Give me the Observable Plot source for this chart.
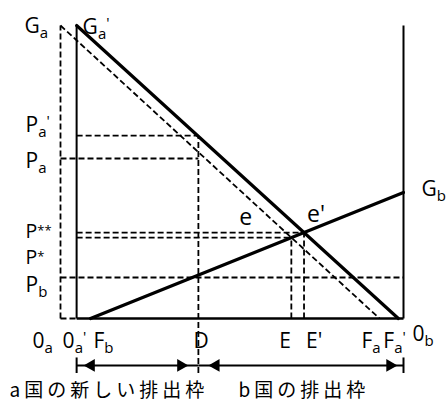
<!DOCTYPE html>
<html><head><meta charset="utf-8">
<script src="https://cdn.jsdelivr.net/npm/d3@7"></script>
<script src="https://cdn.jsdelivr.net/npm/@observablehq/plot@0.6"></script>
<style>
body{margin:0;background:#fff;}
</style>
</head><body><div id="chart"></div>
<script>
// Horizontal points on the emission-allowance box (0 = O_a, 100 = O_b)
const xNames  = ["0_a", "0_a^'", "F_b", "D", "E", "E'", "F_a", "F_a^'", "0_b"];
const xValues = [0, 4.7, 8.75, 40.2, 67.3, 71.0, 93.0, 98.5, 100];
// Price / marginal-benefit levels
const yNames  = ["G_a", "P_a^'", "P_a", "P^**", "P^*", "P_b", "G_b"];
const yValues = [100, 62.4, 54.6, 29.3, 27.6, 14.0, 43.0];
// Bracket captions under the axis
const bracketLabels = ["a国の新しい排出枠", "b国の排出枠"];

const X = Object.fromEntries(xNames.map((n, i) => [n, xValues[i]]));
const Y = Object.fromEntries(yNames.map((n, i) => [n, yValues[i]]));

// layout rows below the axis (in y units)
const arrowRow = -16, tickTop = -13.3, tickBot = -18.6;

const seg = (x1, y1, x2, y2) => ({x1, y1, x2, y2});

const dashedSegs = [
  seg(X["0_a"], 0, X["0_a"], Y.G_a),
  seg(X["0_a"], 0, X["0_a^'"], 0),
  seg(X["0_a"], Y.G_a, X.F_a, 0),                 // original G_a line
  seg(X["0_a^'"], Y["P_a^'"], X.D, Y["P_a^'"]),
  seg(X["0_a"], Y.P_a, X.D, Y.P_a),
  seg(X["0_a^'"], Y["P^**"], X["E'"], Y["P^**"]),
  seg(X["0_a^'"], Y["P^*"], X.E, Y["P^*"]),
  seg(X["0_a"], Y.P_b, X["0_b"], Y.P_b),
  seg(X.D, tickBot, X.D, Y["P_a^'"]),
  seg(X.E, 0, X.E, Y["P^*"]),
  seg(X["E'"], 0, X["E'"], Y["P^**"])
];
const thinSolid = [
  seg(X["0_a^'"], 0, X["0_a^'"], Y.G_a),
  seg(X["0_b"], 0, X["0_b"], Y.G_a),
  seg(X["0_a^'"], tickTop, X["0_a^'"], tickBot),
  seg(X["0_b"], tickTop, X["0_b"], tickBot)
];
const baseSeg = [seg(X["0_a^'"], 0, X["0_b"], 0)];
const thickSolid = [
  seg(X["0_a^'"], Y.G_a, X["F_a^'"], 0),          // shifted G_a'
  seg(X.F_b, 0, X["0_b"], Y.G_b)                  // G_b
];
// bracket arrows: from/to points, tips inset in px
const arrows = [
  {x1: X["0_a^'"], x2: X.D, in1: 7, in2: 10},
  {x1: X.D, x2: X["0_b"], in1: 10, in2: 6}
];

const labels = [
  {t: "G_a",   x: X["0_a"],  y: Y.G_a, dx: -36, dy: 7},
  {t: "G_a^'", x: X["0_a^'"], y: Y.G_a, dx: 6, dy: 8},
  {t: "P_a^'", x: X["0_a"], y: Y["P_a^'"], dx: -35, dy: -4},
  {t: "P_a",   x: X["0_a"], y: Y.P_a, dx: -35, dy: 9},
  {t: "P^**",  x: X["0_a"], y: Y["P^**"], dx: -35, dy: 5, fs: 19.5},
  {t: "P^*",   x: X["0_a"], y: Y["P^*"], dx: -35, dy: 26, fs: 19.5},
  {t: "P_b",   x: X["0_a"], y: Y.P_b, dx: -35, dy: 15},
  {t: "G_b",   x: X["0_b"], y: Y.G_b, dx: 18, dy: 3},
  {t: "e",     x: X.E, y: Y["P^*"], dx: -52, dy: -13, fs: 23},
  {t: "e'",    x: X["E'"], y: Y["P^**"], dx: 3, dy: -11, fs: 23},
  {t: "0_a",   x: X["0_a"], y: 0, dx: -28, dy: 29},
  {t: "0_a^'", x: X["0_a^'"], y: 0, dx: -14, dy: 29},
  {t: "F_b",   x: X.F_b, y: 0, dx: 3, dy: 29},
  {t: "D",     x: X.D, y: 0, dx: -5, dy: 29},
  {t: "E",     x: X.E, y: 0, dx: -12, dy: 29},
  {t: "E'",    x: X["E'"], y: 0, dx: 2, dy: 29},
  {t: "F_a",   x: X.F_a, y: 0, dx: -18, dy: 29},
  {t: "F_a^'", x: X["F_a^'"], y: 0, dx: -15, dy: 29},
  {t: "0_b",   x: X["0_b"], y: 0, dx: 9, dy: 22}
];

const headR = 4.8;
const tipOff = 2 * Math.sqrt(Math.PI * headR * headR / (Math.sqrt(3) * 3));
const lineStyle = {x1: "x1", y1: "y1", x2: "x2", y2: "y2", stroke: "#000"};

const marks = [
  Plot.link(dashedSegs, {...lineStyle, strokeWidth: 1.8, strokeDasharray: "6,3"}),
  Plot.link(thinSolid, {...lineStyle, strokeWidth: 2}),
  Plot.link(baseSeg, {...lineStyle, strokeWidth: 2.4}),
  Plot.link(thickSolid, {...lineStyle, strokeWidth: 3.2, strokeLinecap: "round"})
];
for (const a of arrows) {
  marks.push(Plot.link([a], {x1: "x1", x2: "x2", y1: () => arrowRow, y2: () => arrowRow, stroke: "#000", strokeWidth: 2}));
  marks.push(Plot.dot([a], {x: "x1", y: () => arrowRow, dx: a.in1 + tipOff, symbol: "triangle", r: headR, fill: "#000", rotate: -90}));
  marks.push(Plot.dot([a], {x: "x2", y: () => arrowRow, dx: -(a.in2 + tipOff), symbol: "triangle", r: headR, fill: "#000", rotate: 90}));
}
for (const L of labels) {
  marks.push(Plot.text([L], {x: "x", y: "y", text: "t", dx: L.dx, dy: L.dy, textAnchor: "start", lineAnchor: "bottom",
    fill: "#000", fontSize: L.fs ?? 21, fontFamily: "'Open Sans', sans-serif"}));
}
marks.push(Plot.text([bracketLabels[0]], {x: () => X["0_a"], y: () => 0, text: d => d, textAnchor: "start", lineAnchor: "bottom",
  dx: -51, dy: 78, fontFamily: "'Noto Sans CJK JP', sans-serif", fontSize: 19, fill: "#000"}));
marks.push(Plot.text([bracketLabels[1]], {x: () => X.D, y: () => 0, text: d => d, textAnchor: "start", lineAnchor: "bottom",
  dx: 40, dy: 78, fontFamily: "'Noto Sans CJK JP', sans-serif", fontSize: 19, fill: "#000"}));

const plot = Plot.plot({
  width: 446, height: 401,
  marginLeft: 60, marginRight: 43, marginTop: 25, marginBottom: 83,
  x: {domain: [0, 100], axis: null},
  y: {domain: [0, 100], axis: null},
  style: {background: "#fff", overflow: "visible"},
  marks
});
document.getElementById("chart").appendChild(plot);

// Sub/superscript formatting of labels ("_" = subscript, "^" = superscript)
const ns = "http://www.w3.org/2000/svg";
plot.querySelectorAll("text").forEach(t => {
  const s = t.textContent;
  if (/国/.test(s)) { t.setAttribute("letter-spacing", "4"); return; }
  if (!/[_^]/.test(s)) return;
  const parts = s.split(/([_^])/);
  t.textContent = "";
  const main = document.createElementNS(ns, "tspan");
  main.textContent = parts[0];
  t.appendChild(main);
  for (let k = 1; k < parts.length; k += 2) {
    const ts = document.createElementNS(ns, "tspan");
    const txt = parts[k + 1];
    ts.textContent = txt;
    if (parts[k] === "_") { ts.setAttribute("font-size", "15"); ts.setAttribute("baseline-shift", "-5"); }
    else if (txt === "'") { ts.setAttribute("font-size", "15"); ts.setAttribute("baseline-shift", "6"); }
    else { ts.setAttribute("font-size", "13"); ts.setAttribute("baseline-shift", "3"); }
    t.appendChild(ts);
  }
});
</script>
</body></html>
